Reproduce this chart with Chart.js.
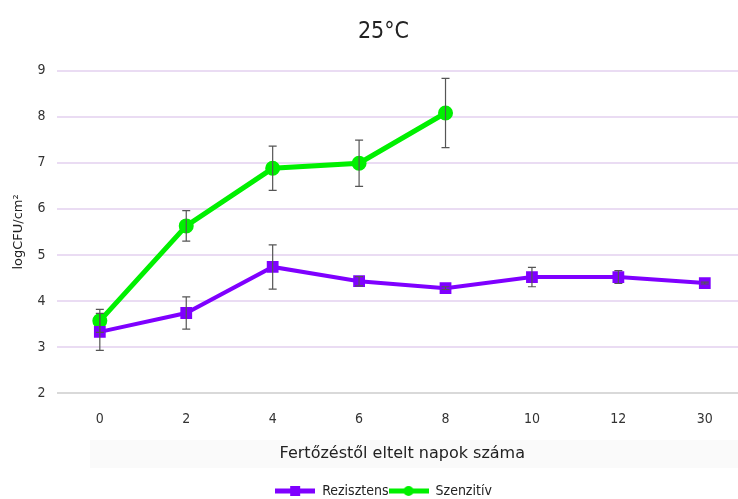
<!DOCTYPE html>
<html lang="hu">
<head>
<meta charset="UTF-8">
<title>25°C</title>
<script src="https://cdn.jsdelivr.net/npm/chart.js"></script>
<style>
  html, body { margin: 0; padding: 0; background: #fff; overflow: hidden; }
  .wrap { width: 738px; height: 499px; overflow: hidden; position: relative; }
</style>
</head>
<body>
<div class="wrap"><canvas id="chart" width="758" height="499"></canvas></div>
<script>
const days = ["0", "2", "4", "6", "8", "10", "12", "30"];
const rezisztens = [3.33, 3.74, 4.74, 4.43, 4.28, 4.52, 4.52, 4.39];
const rezisztensErr = [0.4, 0.35, 0.48, 0.1, 0.03, 0.21, 0.14, 0.02];
const szenzitiv = [3.57, 5.63, 6.88, 6.99, 8.08, null, null, null];
const szenzitivErr = [0.25, 0.33, 0.48, 0.5, 0.75, null, null, null];
const yTicks = [2, 3, 4, 5, 6, 7, 8, 9];

const purple = "#7f00ff";
const green = "#00f000";
const tickFont = { family: "'DejaVu Sans Condensed', 'DejaVu Sans', sans-serif", size: 14 };

// small line+marker pictures for the legend
function legendIcon(color, shape) {
  const c = document.createElement("canvas");
  c.width = 40; c.height = 12;
  const g = c.getContext("2d");
  g.strokeStyle = color; g.lineWidth = 5;
  g.beginPath(); g.moveTo(0, 6); g.lineTo(40, 6); g.stroke();
  g.fillStyle = color;
  if (shape === "rect") g.fillRect(15, 1, 10, 10);
  else { g.beginPath(); g.arc(20, 6, 5, 0, Math.PI * 2); g.fill(); }
  return c;
}

const errorBars = {
  id: "errorBars",
  afterDatasetsDraw(chart) {
    const { ctx, scales: { x, y } } = chart;
    const errs = [rezisztensErr, szenzitivErr];
    ctx.save();
    ctx.strokeStyle = "#555";
    ctx.lineWidth = 1.2;
    chart.data.datasets.forEach((ds, i) => {
      ds.data.forEach((v, j) => {
        const e = errs[i][j];
        if (v == null || !e) return;
        const px = x.getPixelForValue(j);
        const top = y.getPixelForValue(v + e);
        const bot = y.getPixelForValue(v - e);
        ctx.beginPath();
        ctx.moveTo(px, top); ctx.lineTo(px, bot);
        ctx.moveTo(px - 4, top); ctx.lineTo(px + 4, top);
        ctx.moveTo(px - 4, bot); ctx.lineTo(px + 4, bot);
        ctx.stroke();
      });
    });
    ctx.restore();
  }
};

const titleBox = {
  id: "titleBox",
  beforeDraw(chart) {
    const { ctx } = chart;
    ctx.save();
    ctx.fillStyle = "#fafafa";
    ctx.fillRect(90, 440, 668, 28);
    ctx.restore();
  }
};

new Chart(document.getElementById("chart"), {
  type: "line",
  data: {
    labels: days,
    datasets: [
      { label: "Rezisztens", data: rezisztens, borderColor: purple, backgroundColor: purple,
        borderWidth: 4, pointStyle: "rect", pointRadius: 5.5, pointHoverRadius: 5.5, spanGaps: false },
      { label: "Szenzitív", data: szenzitiv, borderColor: green, backgroundColor: green,
        borderWidth: 5, pointStyle: "circle", pointRadius: 5, pointHoverRadius: 5, spanGaps: false }
    ]
  },
  options: {
    responsive: false,
    animation: false,
    layout: { padding: { left: 11, right: 2, top: 4, bottom: -9 } },
    plugins: {
      title: {
        display: true, text: "25°C", color: "#222",
        font: { family: "'Liberation Sans Narrow', 'DejaVu Sans Condensed', sans-serif", size: 23, weight: "normal" },
        padding: { top: 14, bottom: 25 }
      },
      legend: {
        position: "bottom",
        labels: {
          color: "#222",
          font: { family: "'DejaVu Sans Condensed', 'DejaVu Sans', sans-serif", size: 14 },
          usePointStyle: true,
          pointStyleWidth: 40,
          boxHeight: 12,
          padding: 0,
          generateLabels(chart) {
            return chart.data.datasets.map((ds, i) => ({
              text: ds.label,
              pointStyle: legendIcon(ds.borderColor, ds.pointStyle),
              fontColor: "#222",
              strokeStyle: ds.borderColor,
              fillStyle: ds.borderColor,
              lineWidth: 0,
              datasetIndex: i
            }));
          }
        }
      },
      tooltip: { enabled: false }
    },
    scales: {
      x: {
        offset: true,
        grid: { display: false, drawTicks: false },
        border: { display: false },
        ticks: { color: "#333", font: tickFont, padding: 18 },
        title: {
          display: true, text: "Fertőzéstől eltelt napok száma", color: "#222",
          font: { family: "'DejaVu Sans', Verdana, sans-serif", size: 16, lineHeight: 1 },
          padding: { top: 0, bottom: 22 }
        }
      },
      y: {
        min: 2, max: 9,
        afterBuildTicks(scale) { scale.ticks = yTicks.map(v => ({ value: v })); },
        grid: {
          drawTicks: false,
          lineWidth: 2,
          color: ctx => ctx.tick.value === 2 ? "#d9d9d9" : "#eadcf3"
        },
        border: { display: false },
        ticks: { color: "#333", font: tickFont, padding: 11 },
        title: {
          display: true, text: "logCFU/cm²", color: "#222",
          font: { family: "'DejaVu Sans', Verdana, sans-serif", size: 13 },
          padding: { top: 0, bottom: 0 }
        }
      }
    }
  },
  plugins: [titleBox, errorBars]
});
</script>
</body>
</html>
